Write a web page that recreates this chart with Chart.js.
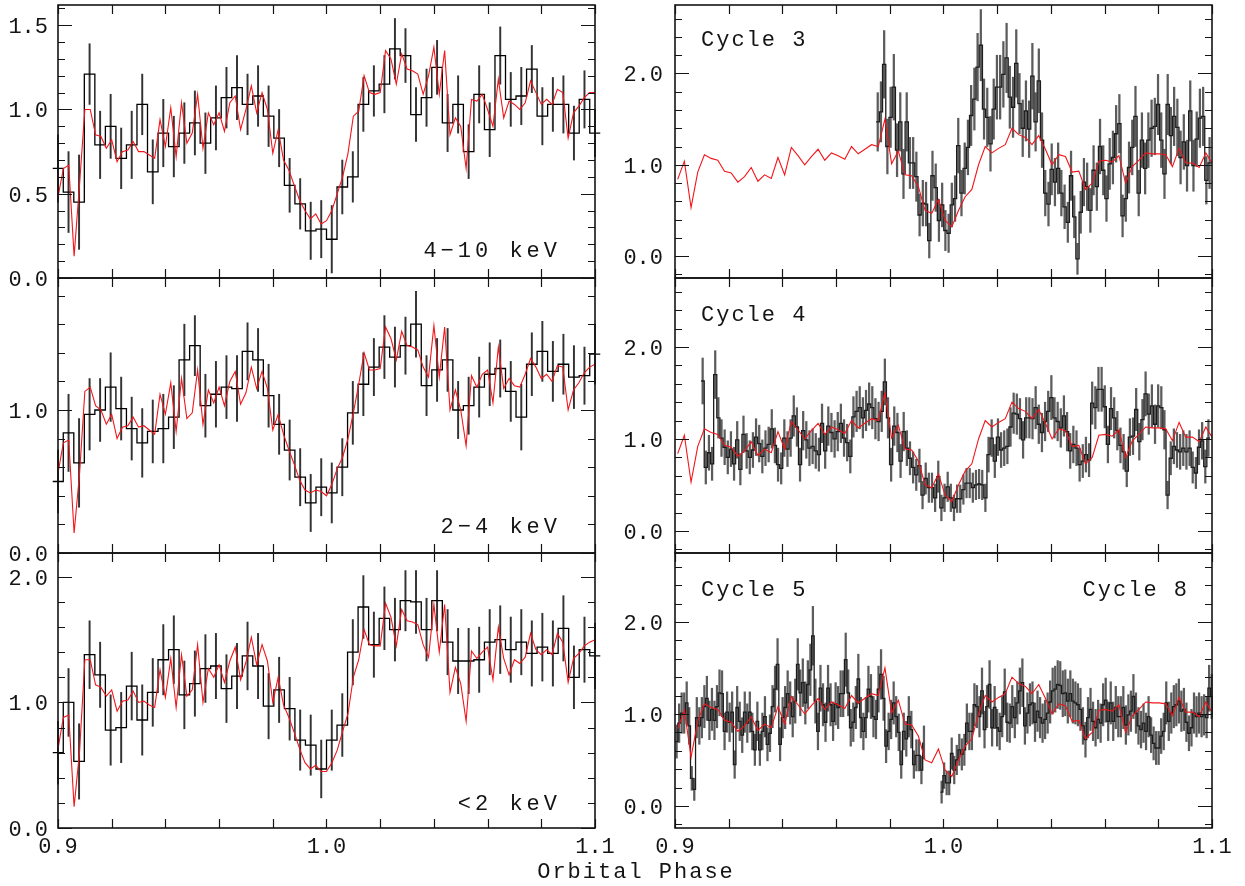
<!DOCTYPE html>
<html>
<head>
<meta charset="utf-8">
<script src="https://cdn.jsdelivr.net/npm/chart.js@4.4.1/dist/chart.umd.min.js"></script>
<style>
  html, body { margin: 0; background: #fff; }
  #wrap { position: relative; width: 1245px; height: 886px; overflow: hidden; }
  #wrap canvas { position: absolute; left: 0; top: 0; }
</style>
</head>
<body>
<div id="wrap"></div>
<script>
// ---- left column: folded light curves, 52 phase bins + model (red) every 0.002 ----
const HARD_RATE = [0.65,0.51,0.45,1.21,0.79,0.90,0.71,0.79,1.03,0.63, 0.86,0.78,0.86,0.92,0.80,0.95,1.07,1.13,1.03,1.08,
  0.96,0.83,0.55,0.44,0.28,0.29,0.23,0.54,0.60,1.03, 1.11,1.15,1.36,1.32,0.97,1.07,1.25,0.92,1.03,0.75,
  1.09,0.88,1.32,1.06,1.08,1.24,0.96,1.03,1.03,0.86, 1.06,0.86];
const HARD_ERR = [0.20,0.24,0.28,0.18,0.20,0.19,0.18,0.20,0.18,0.19, 0.20,0.18,0.18,0.19,0.18,0.19,0.18,0.19,0.18,0.18,
  0.18,0.17,0.16,0.15,0.17,0.17,0.20,0.16,0.15,0.16, 0.15,0.17,0.18,0.16,0.16,0.17,0.16,0.17,0.17,0.16,
  0.17,0.16,0.17,0.16,0.17,0.14,0.17,0.16,0.17,0.16, 0.17,0.14];
const HARD_MODEL = [0.48,0.65,0.67,0.13,0.55,1.00,1.00,0.85,0.84,0.77, 0.82,0.69,0.75,0.76,0.81,0.75,0.75,0.73,0.71,0.94,
  0.78,1.01,0.72,1.04,0.80,0.86,1.09,0.77,0.98,0.91, 0.98,0.87,1.04,1.08,0.88,1.00,1.14,0.98,1.10,1.00,
  0.74,0.88,0.70,0.64,0.55,0.46,0.40,0.35,0.38, 0.32,0.34,0.40,0.50,0.60,0.74,0.96,0.99,1.20,1.10,
  1.09,1.10,1.35,1.30,1.15,1.33,1.24,1.23,1.21,1.09, 1.20,1.37,1.09,1.35,0.85,0.95,0.90,0.65,1.06,1.05,
  1.09,1.00,0.90,1.18,0.95,1.05,1.03,1.00,1.04,1.17, 1.10,1.03,1.06,1.03,1.12,1.10,0.83,0.98,1.02,1.07, 1.10,1.10];

const MID_RATE = [0.50,0.84,0.63,0.97,1.00,1.16,1.01,0.87,0.77,0.85, 0.87,0.95,1.35,1.45,1.03,1.11,1.16,1.15,1.41,1.35,
  1.10,0.90,0.72,0.53,0.35,0.46,0.42,0.60,0.98,1.18, 1.30,1.44,1.37,1.45,1.60,1.17,1.28,1.35,1.00,1.03,
  1.16,1.25,1.29,1.13,0.95,1.32,1.41,1.27,1.32,1.23, 1.24,1.39];
const MID_ERR = [0.22,0.27,0.31,0.25,0.22,0.24,0.22,0.22,0.24,0.22, 0.24,0.22,0.25,0.21,0.22,0.23,0.22,0.23,0.20,0.22,
  0.22,0.21,0.21,0.20,0.20,0.20,0.21,0.20,0.22,0.22, 0.20,0.22,0.21,0.20,0.23,0.21,0.22,0.22,0.20,0.20,
  0.21,0.22,0.20,0.21,0.23,0.22,0.21,0.21,0.21,0.22, 0.20,0.21];
const MID_MODEL = [0.56,0.77,0.79,0.14,0.55,1.13,1.16,1.03,1.00,0.90, 0.97,0.80,0.88,0.89,0.95,0.88,0.89,0.86,0.83,1.11,
  0.97,1.19,0.85,1.22,0.94,0.98,1.28,0.90,1.14,1.05, 1.16,1.03,1.20,1.27,1.04,1.12,1.30,1.15,1.27,1.15,
  0.86,0.97,0.83,0.72,0.62,0.51,0.44,0.42,0.44, 0.43,0.40,0.48,0.59,0.67,0.80,0.98,1.18,1.40,1.28,
  1.28,1.29,1.58,1.50,1.35,1.55,1.45,1.44,1.42,1.30, 1.23,1.59,1.23,1.58,1.00,1.14,1.00,0.75,1.24,1.16,
  1.25,1.28,1.05,1.44,1.15,1.22,1.17,1.16,1.25,1.36, 1.30,1.22,1.25,1.20,1.31,1.30,1.00,1.14,1.19,1.26, 1.30,1.32];

const SOFT_RATE = [0.60,1.00,0.53,1.38,1.22,0.78,0.80,1.13,0.86,1.08, 1.34,1.42,1.06,1.15,1.27,1.29,1.11,1.21,1.37,1.29,
  0.97,1.10,0.95,0.70,0.66,0.47,0.70,0.82,1.40,1.76, 1.46,1.67,1.58,1.81,1.80,1.58,1.81,1.48,1.33,1.33,
  1.34,1.48,1.50,1.42,1.48,1.39,1.44,1.39,1.59,1.20, 1.42,1.37];
const SOFT_ERR = [0.25,0.27,0.30,0.27,0.26,0.28,0.28,0.27,0.28,0.27, 0.28,0.27,0.27,0.26,0.27,0.26,0.27,0.26,0.27,0.26,
  0.26,0.26,0.25,0.24,0.24,0.23,0.24,0.25,0.26,0.25, 0.26,0.25,0.25,0.24,0.25,0.25,0.24,0.26,0.26,0.26,
  0.26,0.26,0.27,0.26,0.26,0.26,0.27,0.26,0.26,0.25, 0.26,0.26];
const SOFT_MODEL = [0.63,0.88,0.90,0.17,0.60,1.34,1.34,1.14,1.12,1.05, 1.10,0.93,1.01,1.02,1.09,1.00,1.01,0.98,0.96,1.26,
  1.04,1.35,0.96,1.38,1.05,1.10,1.46,1.00,1.27,1.20, 1.30,1.16,1.33,1.44,1.18,1.32,1.52,1.30,1.46,1.33,
  1.00,1.20,0.98,0.88,0.76,0.63,0.52,0.47,0.50, 0.45,0.45,0.52,0.62,0.77,0.91,1.20,1.34,1.58,1.46,
  1.45,1.45,1.79,1.68,1.45,1.74,1.65,1.64,1.62,1.46, 1.36,1.78,1.40,1.78,1.08,1.28,1.15,0.85,1.41,1.35,
  1.40,1.44,1.18,1.60,1.35,1.22,1.34,1.31,1.36,1.55, 1.42,1.38,1.42,1.38,1.55,1.48,1.16,1.35,1.39,1.45, 1.48,1.50];

// ---- right column: single cycles, fine bins; same average profile (red) in each ----
const MEAN_PROFILE = [0.84,1.04,0.53,0.92,1.11,1.07,1.05,0.93,0.91,0.81, 0.87,0.97,0.82,0.89,0.85,1.08,0.89,1.19,1.10,1.00,
  1.09,1.17,1.05,1.13,1.10,1.06,1.20,1.12,1.17,1.22, 1.20,1.50,1.01,1.15,0.89,0.88,0.76,0.50,0.47,0.62,
  0.39,0.32,0.50,0.65,0.73,1.00,1.20,1.13,1.18,1.22, 1.40,1.33,1.30,1.22,1.32,1.17,1.00,1.11,1.09,0.92,
  0.93,0.73,0.80,1.04,1.05,1.03,1.10,0.80,0.98,1.05, 1.13,1.12,1.12,1.11,0.98,1.18,1.02,1.02,0.97,1.13, 1.01];

const CYCLE3_RATE = [1.47,1.58,2.10,1.20,1.52,1.85,1.16,1.47,0.90,1.47, 1.02,1.02,0.87,0.45,0.58,0.57,
  0.17,0.88,0.75,0.39,0.56,0.28,0.25,0.56,0.63,1.21, 0.69,0.96,1.19,1.54,1.72,2.07,2.31,1.61,1.52,1.23,
  1.61,1.85,1.85,1.99,2.17,1.74,1.63,2.11,1.67,1.40, 1.59,1.39,1.97,1.47,1.92,1.27,0.69,0.57,0.95,0.81,
  0.96,0.69,0.54,0.37,0.88,0.43,-0.03,0.48,0.81,0.76, 0.50,0.94,0.76,1.20,0.94,0.63,1.01,1.08,1.34,1.45,
  0.44,0.63,0.97,1.19,1.53,0.69,1.27,0.96,1.27,1.40, 1.42,1.66,1.27,0.90,1.66,1.32,1.53,1.41,1.08,1.25,
  0.99,1.59,0.99,1.28,1.51,1.53,0.83,1.02];
const CYCLE3_ERR = [0.32,0.33,0.37,0.30,0.33,0.36,0.29,0.32,0.27,0.32, 0.28,0.28,0.27,0.23,0.25,0.24,
  0.19,0.27,0.26,0.23,0.24,0.22,0.21,0.24,0.25,0.30, 0.25,0.28,0.30,0.33,0.34,0.37,0.39,0.33,0.32,0.30,
  0.33,0.35,0.35,0.36,0.38,0.34,0.33,0.37,0.33,0.31, 0.33,0.31,0.36,0.32,0.35,0.30,0.25,0.24,0.28,0.26,
  0.28,0.25,0.24,0.22,0.27,0.23,0.17,0.23,0.26,0.26, 0.24,0.27,0.26,0.30,0.27,0.25,0.28,0.29,0.31,0.32,
  0.23,0.25,0.28,0.30,0.33,0.25,0.30,0.28,0.30,0.31, 0.31,0.33,0.30,0.27,0.33,0.31,0.32,0.31,0.29,0.30,
  0.28,0.33,0.28,0.30,0.32,0.32,0.26,0.28];

const CYCLE4_RATE = [1.63,0.69,0.85,0.73,1.70,1.23,1.01,0.91,0.80,0.89, 0.73,0.99,0.67,1.05,0.87,0.80,0.88,1.02,0.95,0.81,
  0.90,0.94,1.11,0.93,0.72,0.68,1.01,0.89,1.01,1.25, 1.13,0.72,1.09,0.99,0.90,0.92,0.87,0.83,1.17,0.87,
  1.14,1.07,1.00,1.08,1.17,1.01,0.96,0.81,1.24,1.30, 1.34,1.23,1.31,1.38,1.34,1.22,1.19,1.30,1.62,1.23,
  0.72,1.14,1.07,0.76,1.08,0.90,0.79,0.69,0.61,0.71, 0.39,0.57,0.47,0.47,0.36,
  0.59,0.25,0.36,0.48,0.36,0.25,0.35,0.35,0.45,0.52, 0.52,0.47,0.50,0.51,0.50,0.36,0.83,1.01,0.76,1.02,
  0.88,0.90,0.92,1.13,1.28,1.27,1.22,0.99,1.23,1.23, 1.22,1.34,1.16,1.07,1.19,1.30,1.45,1.23,1.19,1.12,
  1.25,1.08,0.87,0.94,0.90,0.72,0.76,0.83,0.77,1.39, 1.34,1.54,1.54,1.35,0.94,1.33,1.23,1.09,0.93,0.86,
  0.65,1.02,1.03,1.32,0.97,1.21,1.49,1.27,1.36,1.16, 1.36,1.34,1.10,0.39,0.79,0.92,0.88,0.86,0.90,0.86,
  0.90,0.69,0.63,0.91,0.98,0.70,1.01];
const CYCLE4_ERR = [0.25,0.18,0.19,0.18,0.26,0.22,0.20,0.19,0.18,0.19, 0.18,0.20,0.17,0.20,0.19,0.18,0.19,0.20,0.20,0.18,
  0.19,0.19,0.21,0.19,0.18,0.17,0.20,0.19,0.20,0.22, 0.21,0.18,0.21,0.20,0.19,0.19,0.19,0.18,0.21,0.19,
  0.21,0.21,0.20,0.21,0.21,0.20,0.20,0.18,0.22,0.22, 0.23,0.22,0.22,0.23,0.23,0.22,0.21,0.22,0.25,0.22,
  0.18,0.21,0.21,0.18,0.21,0.19,0.18,0.17,0.17,0.18, 0.15,0.17,0.16,0.16,0.15,
  0.17,0.14,0.15,0.16,0.15,0.14,0.15,0.15,0.16,0.16, 0.16,0.16,0.16,0.16,0.16,0.15,0.19,0.20,0.18,0.20,
  0.19,0.19,0.19,0.21,0.22,0.22,0.22,0.20,0.22,0.22, 0.22,0.23,0.21,0.21,0.21,0.22,0.24,0.22,0.21,0.21,
  0.22,0.21,0.19,0.20,0.19,0.18,0.18,0.19,0.18,0.23, 0.23,0.24,0.24,0.23,0.20,0.23,0.22,0.21,0.19,0.19,
  0.17,0.20,0.20,0.23,0.20,0.22,0.24,0.22,0.23,0.21, 0.23,0.23,0.21,0.15,0.18,0.19,0.19,0.19,0.19,0.19,
  0.19,0.17,0.17,0.19,0.20,0.18,0.20];

const CYCLE5_RATE = [0.70,0.90,1.01,1.01,1.12,0.87,0.30,0.18,0.96,0.87, 0.96,1.08,1.17,0.93,1.05,0.93,1.08,1.23,1.22,0.81,
  1.02,0.91,1.02,0.45,1.07,0.92,0.77,1.02,0.90,1.02, 0.81,0.61,0.92,0.61,0.81,0.97,0.67,0.79,1.08,1.27,
  1.54,0.67,0.96,1.07,1.22,1.12,0.97,1.14,1.54,1.23, 1.34,1.12,1.32,1.48,1.85,1.14,0.81,1.28,1.10,0.91,
  1.28,1.10,0.92,1.11,1.07,1.22,1.22,1.59,1.23,0.85, 0.91,1.07,1.38,0.96,0.81,0.96,1.27,1.19,0.97,0.94,
  1.27,1.43,1.17,0.65,0.81,0.94,1.12,0.97,0.80,0.45, 0.81,0.73,0.97,0.83,0.45,0.55,0.55,0.39,0.69,
  null,null,null,null,null,null,
  0.15,0.33,0.25,0.25,0.57,0.39,0.50,0.61,0.56,0.61, 0.90,0.81,0.81,1.10,1.08,0.97,1.25,0.83,1.08,1.32,
  0.85,1.07,0.85,0.81,0.97,1.24,0.91,0.90,1.08,0.96, 1.12,1.25,1.34,0.87,1.01,1.10,1.12,0.91,1.03,0.96,
  0.90,0.94,1.01,1.13,1.25,1.27,1.32,1.31,1.22,1.23, 1.14,1.22,1.14,1.12,1.10,1.05,0.87,0.72,0.96,1.05,
  0.92,0.85,0.94,0.90,1.10,1.15,0.92,1.12,0.92,1.07, 0.97,0.97,1.07,0.88,0.99,1.03,1.19,1.01,0.87,0.83,
  0.90,0.81,0.97,0.77,0.68,0.63,0.63,0.76,0.81,1.12, 0.92,1.01,1.08,1.10,1.14,1.03,1.05,0.91,0.79,0.85,
  1.01,0.97,1.01,0.97,0.99,0.96,1.28,1.19,0.97];
const CYCLE5_ERR = [0.18,0.21,0.22,0.22,0.23,0.20,0.13,0.12,0.22,0.20, 0.22,0.23,0.24,0.21,0.23,0.21,0.23,0.25,0.25,0.20,
  0.22,0.21,0.22,0.15,0.23,0.21,0.19,0.22,0.21,0.22, 0.20,0.17,0.21,0.17,0.20,0.22,0.18,0.20,0.23,0.25,
  0.28,0.18,0.22,0.23,0.25,0.23,0.22,0.24,0.28,0.25, 0.26,0.23,0.26,0.28,0.32,0.24,0.20,0.25,0.23,0.21,
  0.25,0.23,0.21,0.23,0.23,0.25,0.25,0.29,0.25,0.20, 0.21,0.23,0.27,0.22,0.20,0.22,0.25,0.24,0.22,0.21,
  0.25,0.27,0.24,0.18,0.20,0.21,0.23,0.22,0.20,0.15, 0.20,0.19,0.22,0.20,0.15,0.17,0.17,0.15,0.18,
  null,null,null,null,null,null,
  0.12,0.14,0.13,0.13,0.17,0.15,0.16,0.17,0.17,0.17, 0.21,0.20,0.20,0.23,0.23,0.22,0.25,0.20,0.23,0.26,
  0.20,0.23,0.20,0.20,0.22,0.25,0.21,0.21,0.23,0.22, 0.23,0.25,0.26,0.20,0.22,0.23,0.23,0.21,0.22,0.22,
  0.21,0.21,0.22,0.23,0.25,0.25,0.26,0.26,0.25,0.25, 0.24,0.25,0.24,0.23,0.23,0.23,0.20,0.19,0.22,0.23,
  0.21,0.20,0.21,0.21,0.23,0.24,0.21,0.23,0.21,0.23, 0.22,0.22,0.23,0.21,0.22,0.22,0.24,0.22,0.20,0.20,
  0.21,0.20,0.22,0.19,0.18,0.18,0.18,0.19,0.20,0.23, 0.21,0.22,0.23,0.23,0.24,0.22,0.23,0.21,0.19,0.20,
  0.22,0.22,0.22,0.22,0.22,0.22,0.25,0.24,0.22];

// axis ticks
const X_TICKS = [0.90,0.92,0.94,0.96,0.98,1.00,1.02,1.04,1.06,1.08,1.10];
const X_LABELS = [0.9,1.0,1.1];

const W = 1245, H = 886;
const INK = '#141414';
const RED = '#f2161b';
const FONT = '"Liberation Mono", "DejaVu Sans Mono", monospace';

Chart.defaults.font.family = FONT;
Chart.defaults.animation = false;

// bin grids (phase positions of the bins)
const grid = ( x0, dx, n ) => Array.from( { length: n }, ( _, i ) => x0 + dx * i );
const LEFT_BINS = grid( 0.9, 0.2 / 51, 52 );
const LEFT_MODEL_X = grid( 0.9, 0.002, 101 );
const RIGHT_MODEL_X = grid( 0.901, 0.00249, 81 );

const histogram = ( xs, vals, w ) => {
    const pts = vals.map( ( v, i ) => ( { x: xs[ i ] - w / 2, y: v } ) );
    pts.push( { x: xs[ xs.length - 1 ] + w / 2, y: vals[ vals.length - 1 ] } );
    return pts;
};
const errorBars = ( xs, vals, errs ) => vals
    .map( ( v, i ) => v === null ? null : { x: xs[ i ], y: [ v - errs[ i ], v + errs[ i ] ] } )
    .filter( Boolean );
const curve = ( xs, vals ) => vals.map( ( v, i ) => ( { x: xs[ i ], y: v } ) );

const frame = ( p ) => ( {
    id: 'frame',
    afterDatasetsDraw( chart ) {
        const { ctx, chartArea: a, scales: { x, y } } = chart;
        ctx.save();
        ctx.strokeStyle = INK;
        ctx.lineWidth = 1.2;
        ctx.beginPath();
        X_TICKS.forEach( v => {
            const px = Math.round( x.getPixelForValue( v ) ) + 0.5;
            ctx.moveTo( px, a.bottom ); ctx.lineTo( px, a.bottom - 9 );
            ctx.moveTo( px, a.top ); ctx.lineTo( px, a.top + 9 );
        } );
        for ( let k = Math.ceil( p.yMin / p.minor - 1e-6 ); k * p.minor <= p.yMax + 1e-9; k++ ) {
            const v = k * p.minor;
            const major = Math.abs( v / p.major - Math.round( v / p.major ) ) < 1e-6;
            const len = major ? 14 : 7;
            const py = Math.round( y.getPixelForValue( v ) ) + 0.5;
            ctx.moveTo( a.left, py ); ctx.lineTo( a.left + len, py );
            ctx.moveTo( a.right, py ); ctx.lineTo( a.right - len, py );
        }
        ctx.stroke();
        ctx.lineWidth = 1.6;
        ctx.strokeRect( a.left, a.top, a.right - a.left, a.bottom - a.top );

        ctx.fillStyle = INK;
        ctx.font = '22px ' + FONT;
        ctx.letterSpacing = '0px';
        ctx.textBaseline = 'alphabetic';
        ctx.textAlign = 'right';
        p.yLabels.forEach( v => ctx.fillText( v.toFixed( 1 ), a.left - p.gap, y.getPixelForValue( v ) + 8 ) );
        if ( p.xLabels ) {
            ctx.textAlign = 'center';
            X_LABELS.forEach( v => ctx.fillText( v.toFixed( 1 ), x.getPixelForValue( v ), a.bottom + 25 ) );
        }
        p.notes.forEach( n => {
            ctx.letterSpacing = n.ls + 'px';
            ctx.textAlign = n.align;
            ctx.fillText( n.text, n.x, n.y );
        } );
        ctx.restore();
    }
} );

const panel = ( p ) => {
    const canvas = document.createElement( 'canvas' );
    canvas.width = W;
    canvas.height = H;
    document.getElementById( 'wrap' ).append( canvas );

    return new Chart( canvas, {
        type: 'line',
        data: {
            datasets: [ {
                data: curve( p.modelX, p.model ),
                borderColor: RED,
                borderWidth: 1.1,
                pointRadius: 0,
                tension: 0,
                order: 0
            }, {
                data: histogram( p.binX, p.rate, p.binW ),
                stepped: 'before',
                spanGaps: false,
                borderColor: p.histColor,
                borderWidth: 1.3,
                pointRadius: 0,
                clip: p.clip,
                order: 1
            }, {
                type: 'bar',
                data: errorBars( p.binX, p.rate, p.err ),
                backgroundColor: p.errColor,
                barThickness: p.errWidth,
                borderWidth: 0,
                grouped: false,
                clip: p.clip,
                order: 2
            } ]
        },
        options: {
            responsive: false,
            animation: false,
            events: [],
            layout: { padding: { left: p.box[ 0 ], right: W - p.box[ 2 ], top: p.box[ 1 ], bottom: H - p.box[ 3 ] } },
            scales: {
                x: { type: 'linear', min: 0.9, max: 1.1, display: false, offset: false },
                y: { type: 'linear', min: p.yMin, max: p.yMax, display: false }
            },
            plugins: { legend: { display: false }, tooltip: { enabled: false } }
        },
        plugins: [ frame( p ) ]
    } );
};

const LEFT = { modelX: LEFT_MODEL_X, binX: LEFT_BINS, binW: 0.2 / 51, histColor: '#000', errColor: '#333',
    errWidth: 1.3, clip: { left: 6, right: 6, top: 0, bottom: 0 }, gap: 10 };
const RIGHT = { modelX: RIGHT_MODEL_X, model: MEAN_PROFILE, histColor: '#1c1c1c', errColor: '#5c5c5c',
    errWidth: 1.6, clip: 1, yMin: -0.24, yMax: 2.75, minor: 0.2, major: 1.0, yLabels: [ 0, 1, 2 ], gap: 12 };

panel( { ...LEFT, box: [ 58, 5, 595, 278 ], rate: HARD_RATE, err: HARD_ERR, model: HARD_MODEL,
    yMin: 0, yMax: 1.62, minor: 0.1, major: 0.5, yLabels: [ 0, 0.5, 1.0, 1.5 ],
    notes: [ { text: '4\u221210 keV', x: 561, y: 257, align: 'right', ls: 4 } ] } );
panel( { ...LEFT, box: [ 58, 278, 595, 553 ], rate: MID_RATE, err: MID_ERR, model: MID_MODEL,
    yMin: 0, yMax: 1.923, minor: 0.2, major: 1.0, yLabels: [ 0, 1.0 ],
    notes: [ { text: '2\u22124 keV', x: 561, y: 533, align: 'right', ls: 4 } ] } );
panel( { ...LEFT, box: [ 58, 553, 595, 828 ], rate: SOFT_RATE, err: SOFT_ERR, model: SOFT_MODEL,
    yMin: 0, yMax: 2.19, minor: 0.2, major: 1.0, yLabels: [ 0, 1.0, 2.0 ], xLabels: true,
    notes: [ { text: '<2 keV', x: 561, y: 810, align: 'right', ls: 4 },
             { text: 'Orbital Phase', x: 636, y: 878, align: 'center', ls: 2 } ] } );

panel( { ...RIGHT, box: [ 675, 5, 1212, 278 ], rate: CYCLE3_RATE, err: CYCLE3_ERR,
    binX: grid( 0.9755, 0.0012, CYCLE3_RATE.length ), binW: 0.0012,
    notes: [ { text: 'Cycle 3', x: 701, y: 46, align: 'left', ls: 2 } ] } );
panel( { ...RIGHT, box: [ 675, 278, 1212, 553 ], rate: CYCLE4_RATE, err: CYCLE4_ERR,
    binX: grid( 0.9103, 0.00117, CYCLE4_RATE.length ), binW: 0.00117,
    notes: [ { text: 'Cycle 4', x: 701, y: 321, align: 'left', ls: 2 } ] } );
panel( { ...RIGHT, box: [ 675, 553, 1212, 828 ], rate: CYCLE5_RATE, err: CYCLE5_ERR,
    binX: grid( 0.9006, 0.00094, CYCLE5_RATE.length ), binW: 0.00094, xLabels: true,
    notes: [ { text: 'Cycle 5', x: 701, y: 596, align: 'left', ls: 2 },
             { text: 'Cycle 8', x: 1189, y: 596, align: 'right', ls: 2 } ] } );
</script>
</body>
</html>
